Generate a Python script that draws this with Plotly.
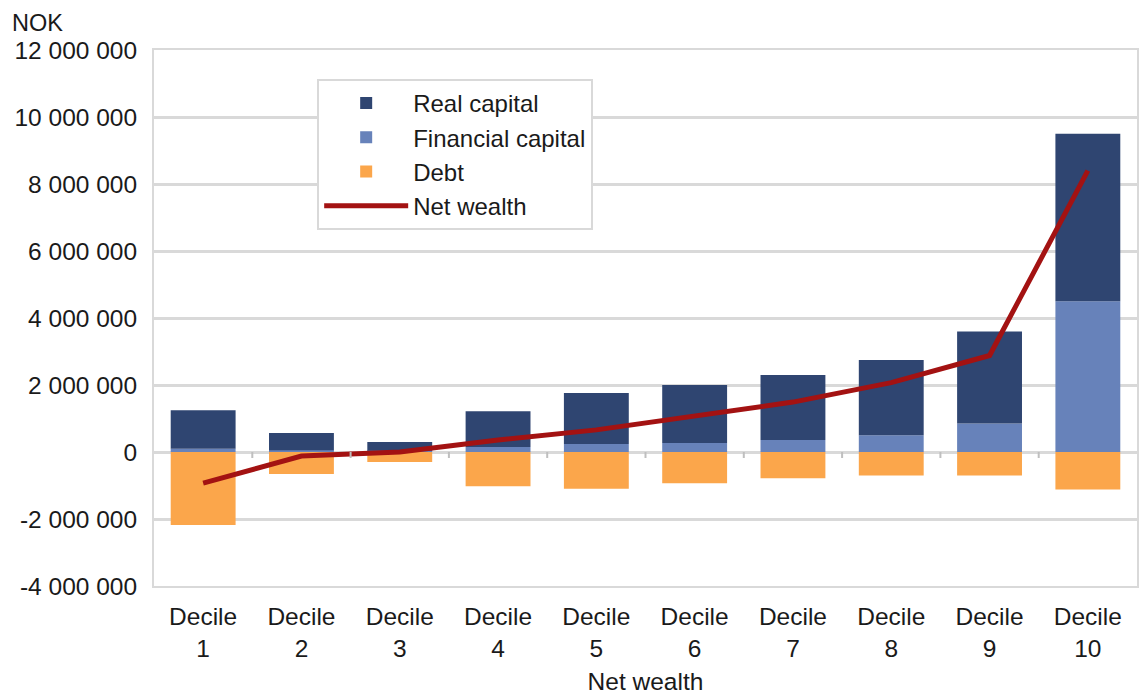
import plotly.graph_objects as go

categories = ["Decile<br>1", "Decile<br>2", "Decile<br>3", "Decile<br>4", "Decile<br>5",
              "Decile<br>6", "Decile<br>7", "Decile<br>8", "Decile<br>9", "Decile<br>10"]
real_capital = [1150000, 520000, 260000, 1070000, 1520000, 1730000, 1940000, 2250000, 2750000, 5000000]
financial_capital = [100000, 50000, 40000, 150000, 240000, 270000, 360000, 500000, 850000, 4500000]
debt = [-2180000, -660000, -300000, -1020000, -1100000, -930000, -780000, -700000, -700000, -1120000]
net_wealth = [-930000, -120000, 0, 360000, 660000, 1070000, 1490000, 2070000, 2880000, 8400000]

y_tickvals = [12000000, 10000000, 8000000, 6000000, 4000000, 2000000, 0, -2000000, -4000000]
y_ticktext = ["12 000 000", "10 000 000", "8 000 000", "6 000 000", "4 000 000",
              "2 000 000", "0", "-2 000 000", "-4 000 000"]

FONT = "Liberation Sans, Arial, sans-serif"
GRID = "#d9d9d9"
FS = 24.5

fig = go.Figure()
fig.add_trace(go.Bar(x=categories, y=financial_capital, name="Financial capital",
                     marker=dict(color="#6782BA", line=dict(width=0)),
                     legendrank=2, legendgroup="b"))
fig.add_trace(go.Bar(x=categories, y=real_capital, name="Real capital",
                     marker=dict(color="#2F4571", line=dict(width=0)),
                     legendrank=1, legendgroup="a"))
fig.add_trace(go.Bar(x=categories, y=debt, name="Debt",
                     marker=dict(color="#FBA64B", line=dict(width=0)),
                     legendrank=3, legendgroup="c"))
fig.add_trace(go.Scatter(x=categories, y=net_wealth, name="Net wealth", mode="lines",
                         line=dict(color="#A31212", width=5),
                         legendrank=4, legendgroup="d"))

# small tick marks on the zero line between categories
shapes = []
for i in range(len(categories) - 1):
    shapes.append(dict(type="line", xref="x", yref="y", x0=i + 0.5, x1=i + 0.5,
                       ysizemode="pixel", yanchor=0, y0=0, y1=-6,
                       line=dict(color="#bfbfbf", width=2)))

fig.update_layout(
    width=1139, height=695,
    margin=dict(l=154, r=0, t=50, b=109),
    paper_bgcolor="white", plot_bgcolor="white",
    font=dict(family=FONT, size=FS, color="#1a1a1a"),
    barmode="relative", bargap=0.34,
    showlegend=True,
    legend=dict(x=0.166, y=0.946, xanchor="left", yanchor="top",
                bgcolor="white", bordercolor=GRID, borderwidth=2,
                font=dict(family=FONT, size=FS - 0.5, color="#1a1a1a"),
                traceorder="normal", tracegroupgap=6, itemwidth=84),
    xaxis=dict(showgrid=False, showline=True, linecolor=GRID, linewidth=2, mirror=True,
               ticks="", ticklabelstandoff=8,
               title=dict(text="Net wealth", font=dict(size=FS), standoff=13)),
    yaxis=dict(range=[-4000000, 12000000], tickvals=y_tickvals, ticktext=y_ticktext,
               showgrid=True, gridcolor=GRID, gridwidth=3,
               zeroline=True, zerolinecolor=GRID, zerolinewidth=3,
               showline=True, linecolor=GRID, linewidth=2, mirror=True,
               ticks="", ticklabelstandoff=10),
    shapes=shapes,
    annotations=[dict(text="NOK", xref="paper", yref="paper", x=-0.146, y=1.0,
                      xanchor="left", yanchor="bottom", yshift=12, showarrow=False,
                      font=dict(family=FONT, size=FS - 1, color="#1a1a1a"))],
)

fig.write_html("out.html", config={"displayModeBar": False},
               post_script="document.body.style.margin='0';")
